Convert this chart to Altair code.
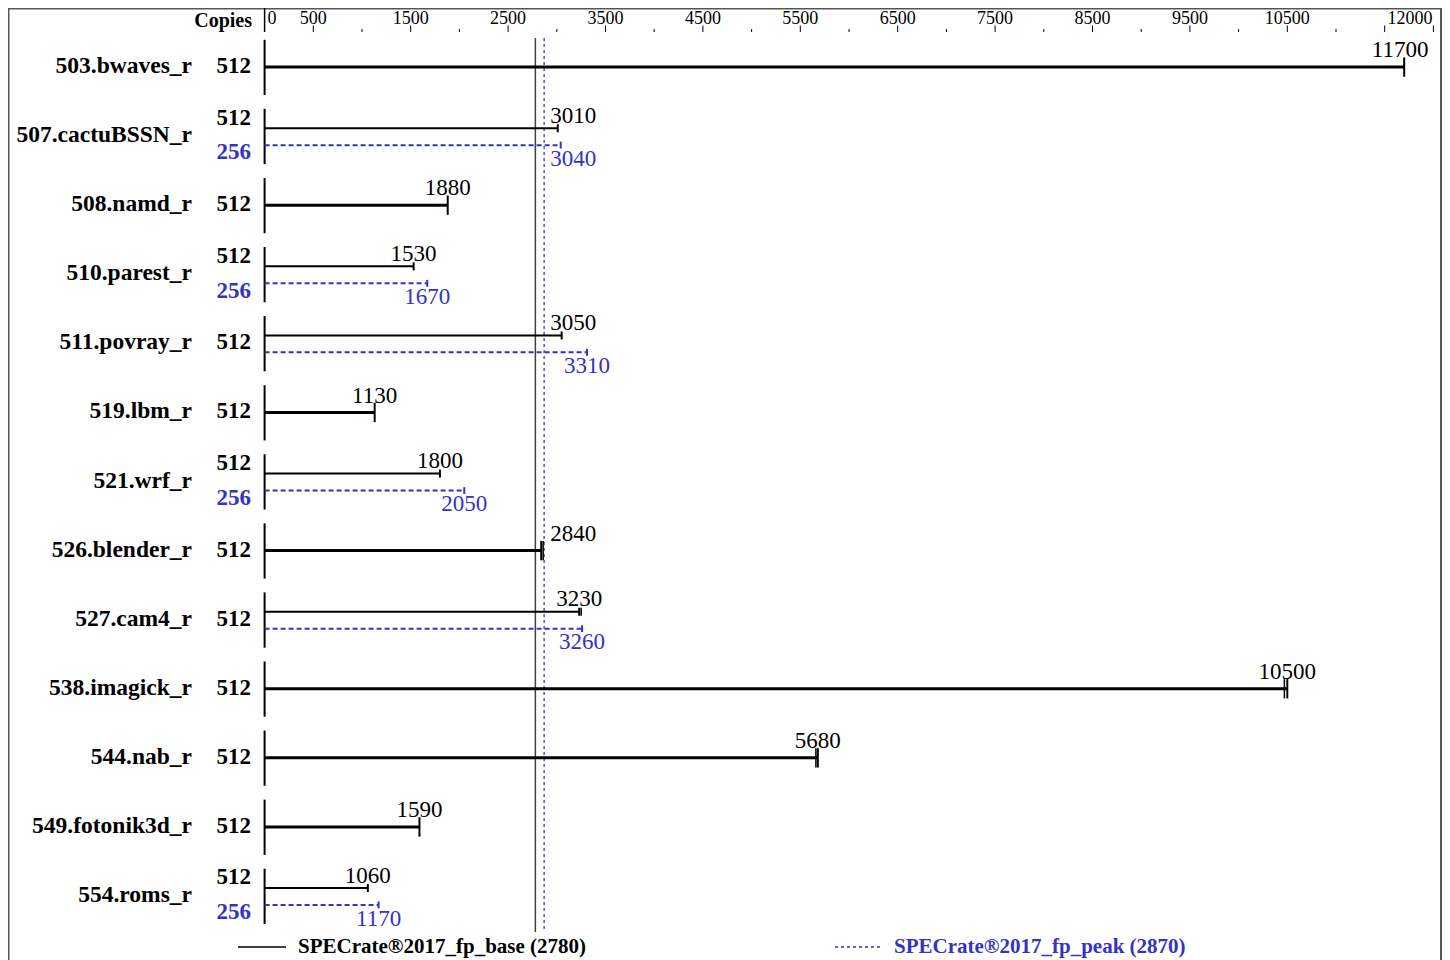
import altair as alt
import pandas as pd

# ---------------- data ----------------
benchmarks = ["503.bwaves_r", "507.cactuBSSN_r", "508.namd_r", "510.parest_r",
              "511.povray_r", "519.lbm_r", "521.wrf_r", "526.blender_r",
              "527.cam4_r", "538.imagick_r", "544.nab_r", "549.fotonik3d_r",
              "554.roms_r"]
base_values = [11700, 3010, 1880, 1530, 3050, 1130, 1800, 2840, 3230, 10500, 5680, 1590, 1060]
peak_values = [None, 3040, None, 1670, 3310, None, 2050, None, 3260, None, None, None, 1170]
base_copies = [512, 512, 512, 512, 512, 512, 512, 512, 512, 512, 512, 512, 512]
peak_copies = [None, 256, None, 256, 512, None, 256, None, 512, None, None, None, 256]
# second run tick visible next to some base results
extra_tick_bench = ["526.blender_r", "527.cam4_r", "538.imagick_r", "544.nab_r"]
extra_tick_values = [2860, 3250, 10470, 5660]

base_score = 2780
peak_score = 2870
base_legend = "SPECrate®2017_fp_base (2780)"
peak_legend = "SPECrate®2017_fp_peak (2870)"

major_ticks = [500, 1500, 2500, 3500, 4500, 5500, 6500, 7500, 8500, 9500, 10500, 11500, 12000]
minor_ticks = [1000, 2000, 3000, 4000, 5000, 6000, 7000, 8000, 9000, 10000, 11000]
tick_labels = [0, 500, 1500, 2500, 3500, 4500, 5500, 6500, 7500, 8500, 9500, 10500, 12000]

# ---------------- styling ----------------
BLUE = "#3333c4"
BLACK = "#000000"
FONT = "Liberation Serif"
W, H = 1434, 952
X = alt.Scale(domain=[0, 12000], range=[256.6, 1425.4], nice=False, zero=False)
Y = alt.Scale(domain=[0, 13], range=[23.5, 921.5], nice=False, zero=False)

# ---------------- derived tables ----------------
rows = []
for i, name in enumerate(benchmarks):
    c = i + 0.5
    pk = peak_values[i]
    double = pk is not None
    by = c - 0.10 if double else c + 0.015
    rows.append(dict(bench=name, kind="base", double=double, value=base_values[i], y=by,
                     half=0.058 if double else 0.14,
                     label_y=by - (0.18 if double else 0.245)))
    if double:
        py = c + 0.145
        rows.append(dict(bench=name, kind="peak", double=True, value=pk, y=py,
                         half=0.05, label_y=py + 0.2))
df = pd.DataFrame(rows)
df["y_lo"] = df["y"] - df["half"]
df["y_hi"] = df["y"] + df["half"]
df["zero"] = 0
df["label"] = df["value"].astype(str)


def label_align(v):
    if v + 320 > 12000:
        return "right"
    if v - 250 < peak_score + 30 and v + 250 > base_score - 30:
        return "left"
    return "center"


df["align"] = df["value"].map(label_align)
df["label_x"] = [peak_score if a == "left" else (12000 if a == "right" else v)
                 for a, v in zip(df["align"], df["value"])]

ypos = dict(zip(df[df.kind == "base"].bench, df[df.kind == "base"].y))
half = dict(zip(df[df.kind == "base"].bench, df[df.kind == "base"].half))
extra = pd.DataFrame({"bench": extra_tick_bench, "value": extra_tick_values})
extra["y_lo"] = [ypos[b] - half[b] for b in extra.bench]
extra["y_hi"] = [ypos[b] + half[b] for b in extra.bench]

names = pd.DataFrame({"bench": benchmarks, "y": [i + 0.5 for i in range(len(benchmarks))]})
seps = pd.DataFrame({"zero": 0, "y0": [i + 0.12 for i in range(len(benchmarks))],
                     "y1": [i + 0.92 for i in range(len(benchmarks))]})

cop = []
for i in range(len(benchmarks)):
    c = i + 0.5
    if peak_copies[i] is None or peak_copies[i] == base_copies[i]:
        cop.append(dict(y=c, text=str(base_copies[i]), kind="base"))
    else:
        cop.append(dict(y=c - 0.255, text=str(base_copies[i]), kind="base"))
        cop.append(dict(y=c + 0.25, text=str(peak_copies[i]), kind="peak"))
cop = pd.DataFrame(cop)

ticks_major = pd.DataFrame({"v": major_ticks})
ticks_minor = pd.DataFrame({"v": minor_ticks})
tl = pd.DataFrame({"v": tick_labels})
tl["text"] = tl["v"].astype(str)
tl["align"] = ["left" if v == 0 else ("right" if v == 12000 else "center") for v in tl["v"]]

refs = pd.DataFrame({"v": [base_score, peak_score], "kind": ["base", "peak"],
                     "y0": [0.094, 0.094], "y1": [13.035, 13.035]})

layers = []

# frame
layers.append(alt.Chart(pd.DataFrame({"a": [0]})).mark_rule(color="#555555", strokeWidth=2).encode(
    x=alt.value(0.5), x2=alt.value(W - 0.5), y=alt.value(0.5)))
layers.append(alt.Chart(pd.DataFrame({"a": [0]})).mark_rule(color="#555555", strokeWidth=2).encode(
    x=alt.value(0.5), y=alt.value(0), y2=alt.value(H)))
layers.append(alt.Chart(pd.DataFrame({"a": [0]})).mark_rule(color="#555555", strokeWidth=2).encode(
    x=alt.value(1433), y=alt.value(0), y2=alt.value(H)))

# top axis
layers.append(alt.Chart(pd.DataFrame({"zero": [0]})).mark_rule(color=BLACK, strokeWidth=1.5).encode(
    x=alt.X("zero:Q", scale=X, axis=None), y=alt.value(0), y2=alt.value(24)))
layers.append(alt.Chart(ticks_major).mark_rule(color=BLACK, strokeWidth=1).encode(
    x=alt.X("v:Q", scale=X, axis=None), y=alt.value(17.5), y2=alt.value(24)))
layers.append(alt.Chart(ticks_minor).mark_rule(color=BLACK, strokeWidth=1).encode(
    x=alt.X("v:Q", scale=X, axis=None), y=alt.value(21), y2=alt.value(24)))
for a, dx in [("left", 3), ("center", 0), ("right", -1)]:
    layers.append(alt.Chart(tl).transform_filter(alt.datum.align == a).mark_text(
        font=FONT, fontSize=18, align=a, baseline="alphabetic", dx=dx, color=BLACK).encode(
        x=alt.X("v:Q", scale=X, axis=None), y=alt.value(16), text="text:N"))
layers.append(alt.Chart(pd.DataFrame({"t": ["Copies"]})).mark_text(
    font=FONT, fontSize=20, fontWeight="bold", align="right", baseline="alphabetic", color=BLACK).encode(
    x=alt.value(244), y=alt.value(19), text="t:N"))

# group separators
layers.append(alt.Chart(seps).mark_rule(color=BLACK, strokeWidth=2).encode(
    x=alt.X("zero:Q", scale=X, axis=None),
    y=alt.Y("y0:Q", scale=Y, axis=None), y2="y1:Q"))

# reference lines
layers.append(alt.Chart(refs).transform_filter(alt.datum.kind == "base").mark_rule(
    color="#404040", strokeWidth=1.5).encode(
    x=alt.X("v:Q", scale=X, axis=None), y=alt.Y("y0:Q", scale=Y, axis=None), y2="y1:Q"))
layers.append(alt.Chart(refs).transform_filter(alt.datum.kind == "peak").mark_rule(
    color="#5555cc", strokeWidth=1.5, strokeDash=[3, 3]).encode(
    x=alt.X("v:Q", scale=X, axis=None), y=alt.Y("y0:Q", scale=Y, axis=None), y2="y1:Q"))

# bars
layers.append(alt.Chart(df).transform_filter("datum.kind == 'base' && !datum.double").mark_rule(
    color=BLACK, strokeWidth=3).encode(
    x=alt.X("zero:Q", scale=X, axis=None), x2="value:Q", y=alt.Y("y:Q", scale=Y, axis=None)))
layers.append(alt.Chart(df).transform_filter("datum.kind == 'base' && datum.double").mark_rule(
    color=BLACK, strokeWidth=2).encode(
    x=alt.X("zero:Q", scale=X, axis=None), x2="value:Q", y=alt.Y("y:Q", scale=Y, axis=None)))
layers.append(alt.Chart(df).transform_filter("datum.kind == 'peak'").mark_rule(
    color=BLUE, strokeWidth=2, strokeDash=[5, 3]).encode(
    x=alt.X("zero:Q", scale=X, axis=None), x2="value:Q", y=alt.Y("y:Q", scale=Y, axis=None)))

# end ticks
layers.append(alt.Chart(df).transform_filter("datum.kind == 'base'").mark_rule(
    color=BLACK, strokeWidth=2).encode(
    x=alt.X("value:Q", scale=X, axis=None), y=alt.Y("y_lo:Q", scale=Y, axis=None), y2="y_hi:Q"))
layers.append(alt.Chart(extra).mark_rule(color=BLACK, strokeWidth=1.5).encode(
    x=alt.X("value:Q", scale=X, axis=None), y=alt.Y("y_lo:Q", scale=Y, axis=None), y2="y_hi:Q"))
layers.append(alt.Chart(df).transform_filter("datum.kind == 'peak'").mark_rule(
    color=BLUE, strokeWidth=2).encode(
    x=alt.X("value:Q", scale=X, axis=None), y=alt.Y("y_lo:Q", scale=Y, axis=None), y2="y_hi:Q"))

# value labels
for kind, col in [("base", BLACK), ("peak", BLUE)]:
    for a, dx in [("left", 6), ("center", 0), ("right", -5)]:
        layers.append(alt.Chart(df).transform_filter(
            f"datum.kind == '{kind}' && datum.align == '{a}'").mark_text(
            font=FONT, fontSize=23, align=a, baseline="middle", dx=dx, color=col).encode(
            x=alt.X("label_x:Q", scale=X, axis=None),
            y=alt.Y("label_y:Q", scale=Y, axis=None), text="label:N"))

# benchmark names
layers.append(alt.Chart(names).mark_text(
    font=FONT, fontSize=23.5, fontWeight="bold", align="right", baseline="middle", color=BLACK).encode(
    x=alt.value(184), y=alt.Y("y:Q", scale=Y, axis=None), text="bench:N"))

# copies
for kind, col in [("base", BLACK), ("peak", BLUE)]:
    layers.append(alt.Chart(cop).transform_filter(alt.datum.kind == kind).mark_text(
        font=FONT, fontSize=23, fontWeight="bold", align="right", baseline="middle", color=col).encode(
        x=alt.value(243), y=alt.Y("y:Q", scale=Y, axis=None), text="text:N"))

# legend
LY = 939
layers.append(alt.Chart(pd.DataFrame({"a": [0]})).mark_rule(color=BLACK, strokeWidth=1.5).encode(
    x=alt.value(230), x2=alt.value(278), y=alt.value(LY)))
layers.append(alt.Chart(pd.DataFrame({"t": [base_legend]})).mark_text(
    font=FONT, fontSize=21, fontWeight="bold", align="left", baseline="middle", color=BLACK).encode(
    x=alt.value(290), y=alt.value(LY), text="t:N"))
layers.append(alt.Chart(pd.DataFrame({"a": [0]})).mark_rule(color=BLUE, strokeWidth=1.5, strokeDash=[3, 3]).encode(
    x=alt.value(827), x2=alt.value(872), y=alt.value(LY)))
layers.append(alt.Chart(pd.DataFrame({"t": [peak_legend]})).mark_text(
    font=FONT, fontSize=21, fontWeight="bold", align="left", baseline="middle", color=BLUE).encode(
    x=alt.value(886), y=alt.value(LY), text="t:N"))

chart = alt.layer(*layers).properties(
    width=W, height=H, padding=0, autosize=alt.AutoSizeParams(type="none")
).configure_view(stroke=None)

chart.save("out.html", embed_options={"renderer": "svg", "actions": False})
